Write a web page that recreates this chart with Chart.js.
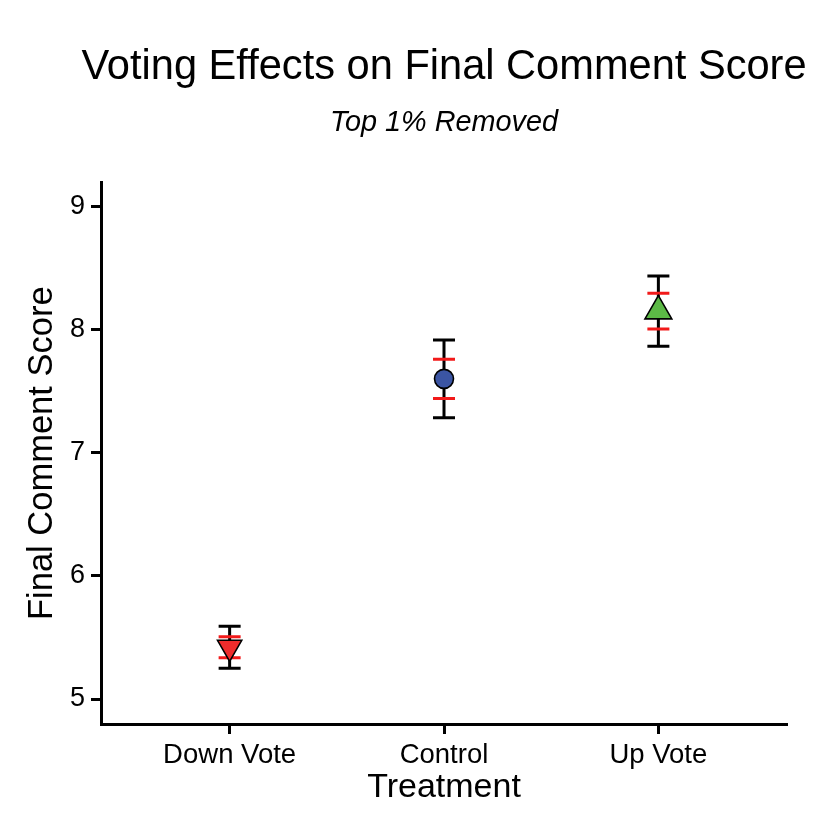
<!DOCTYPE html>
<html>
<head>
<meta charset="utf-8">
<script src="https://cdn.jsdelivr.net/npm/chart.js@4"></script>
<style>
  body { margin: 0; background: #fff; }
  #wrap { width: 830px; height: 830px; }
</style>
</head>
<body>
<div id="wrap"><canvas id="votes"></canvas></div>
<script>
'use strict';
// Data
var categories = ['Down Vote', 'Control', 'Up Vote'];
var means = [5.42, 7.60, 8.15];
// black bars (outer interval)
var outerLow = [5.25, 7.285, 7.865];
var outerHigh = [5.59, 7.915, 8.435];
// red bars (inner interval)
var innerLow = [5.335, 7.44, 8.005];
var innerHigh = [5.505, 7.76, 8.295];
var yTicks = [5, 6, 7, 8, 9];

var pointColors = ['#EE2C2C', '#3B55A3', '#5CB946'];
var pointShapes = ['triangle', 'circle', 'triangle'];
var pointRotations = [180, 0, 0];
var pointSizes = [14, 9.5, 15.5];

var FONT = "'Liberation Sans', Arial, Helvetica, sans-serif";

// Error bars drawn under the points, positioned with the chart scales
var errorBars = {
  id: 'errorBars',
  beforeDatasetsDraw: function (chart) {
    var ctx = chart.ctx;
    var xs = chart.scales.x;
    var ys = chart.scales.y;
    var half = 11;
    ctx.save();
    ctx.lineCap = 'butt';
    ctx.lineWidth = 3;
    ctx.strokeStyle = '#000';
    for (var i = 0; i < categories.length; i++) {
      var px = xs.getPixelForValue(i);
      var top = ys.getPixelForValue(outerHigh[i]);
      var bot = ys.getPixelForValue(outerLow[i]);
      ctx.beginPath();
      ctx.moveTo(px, top); ctx.lineTo(px, bot);
      ctx.moveTo(px - half, top); ctx.lineTo(px + half, top);
      ctx.moveTo(px - half, bot); ctx.lineTo(px + half, bot);
      ctx.stroke();
    }
    ctx.strokeStyle = '#F21A1A';
    for (var j = 0; j < categories.length; j++) {
      var qx = xs.getPixelForValue(j);
      var t = ys.getPixelForValue(innerHigh[j]);
      var b = ys.getPixelForValue(innerLow[j]);
      ctx.beginPath();
      ctx.moveTo(qx - half, t); ctx.lineTo(qx + half, t);
      ctx.moveTo(qx - half, b); ctx.lineTo(qx + half, b);
      ctx.stroke();
    }
    ctx.restore();
  }
};

// Title is centred over the plot panel but wider than it, so widen its box
var widenTitle = {
  id: 'widenTitle',
  afterLayout: function (chart) {
    var blk = chart.titleBlock;
    if (!blk) return;
    var mid = (chart.chartArea.left + chart.chartArea.right) / 2;
    blk.left = mid - 400;
    blk.right = mid + 400;
    blk.width = 800;
  }
};

createVotingChart();

function createVotingChart() {
  var ctx = document.getElementById('votes');
  var pts = means.map(function (m, i) { return { x: i, y: m }; });
  new Chart(ctx, {
    type: 'scatter',
    data: {
      datasets: [{
        data: pts,
        pointStyle: pointShapes,
        rotation: pointRotations,
        pointRadius: pointSizes,
        pointHoverRadius: pointSizes,
        backgroundColor: pointColors,
        borderColor: '#000',
        borderWidth: 1.6
      }]
    },
    options: {
      responsive: true,
      maintainAspectRatio: false,
      animation: false,
      events: [],
      layout: { padding: { top: 0, right: 43, bottom: 0, left: 0 } },
      plugins: {
        legend: { display: false },
        tooltip: { enabled: false },
        title: {
          display: true,
          fullSize: false,
          text: 'Voting Effects on Final Comment Score',
          color: '#000',
          font: { family: FONT, size: 41.6, weight: 'normal' },
          padding: { top: 43, bottom: 0 }
        },
        subtitle: {
          display: true,
          fullSize: false,
          text: 'Top 1% Removed',
          color: '#000',
          font: { family: FONT, size: 28.8, style: 'italic', weight: 'normal' },
          padding: { top: 13, bottom: 42 }
        }
      },
      scales: {
        x: {
          type: 'linear',
          min: -0.6,
          max: 2.6,
          afterBuildTicks: function (scale) {
            scale.ticks = categories.map(function (c, i) { return { value: i }; });
          },
          afterFit: function (scale) { scale.height = 106; },
          ticks: {
            autoSkip: false,
            color: '#000',
            padding: 5,
            font: { family: FONT, size: 27.5 },
            callback: function (v) { return categories[v]; }
          },
          grid: { drawOnChartArea: false, drawTicks: true, tickLength: 10, tickWidth: 3, tickColor: '#000' },
          border: { display: true, color: '#000', width: 3 },
          title: {
            display: true,
            text: 'Treatment',
            color: '#000',
            font: { family: FONT, size: 34 },
            padding: { top: 0, bottom: 22 }
          }
        },
        y: {
          min: 4.797,
          max: 9.195,
          afterBuildTicks: function (scale) {
            scale.ticks = yTicks.map(function (v) { return { value: v }; });
          },
          afterFit: function (scale) { scale.width = 101; },
          ticks: {
            color: '#000',
            padding: 6,
            font: { family: FONT, size: 27 }
          },
          grid: { drawOnChartArea: false, drawTicks: true, tickLength: 10, tickWidth: 3, tickColor: '#000' },
          border: { display: true, color: '#000', width: 3 },
          title: {
            display: true,
            text: 'Final Comment Score',
            color: '#000',
            font: { family: FONT, size: 34.5 },
            padding: { top: 22, bottom: 0 }
          }
        }
      }
    },
    plugins: [errorBars, widenTitle]
  });
}
</script>
</body>
</html>
